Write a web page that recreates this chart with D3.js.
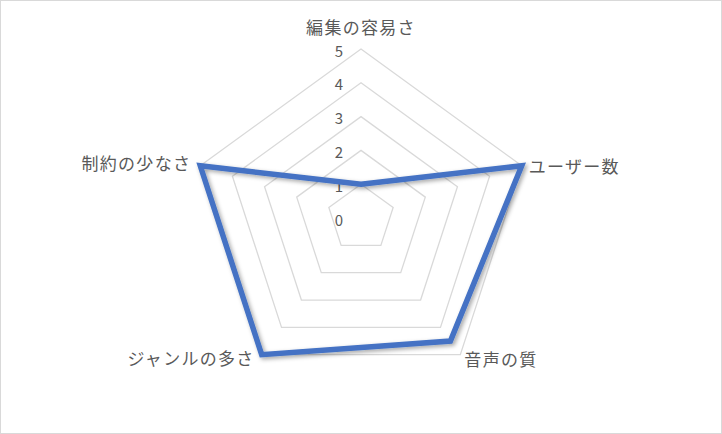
<!DOCTYPE html>
<html>
<head>
<meta charset="utf-8">
<script src="https://cdn.jsdelivr.net/npm/d3@7"></script>
<style>
  body { margin: 0; background: #fff; }
  text { font-family: "Noto Sans CJK JP", "Noto Sans", sans-serif; fill: #595959; }
</style>
</head>
<body>
<svg id="chart" width="722" height="434"></svg>
<script>
const categories = ['編集の容易さ', 'ユーザー数', '音声の質', 'ジャンルの多さ', '制約の少なさ'];
const values = [1, 5, 4.5, 5, 5];
const ticks = [0, 1, 2, 3, 4, 5];

const width = 722, height = 434;
const cx = 361, cy = 218, radius = 169;

const svg = d3.select('#chart');

svg.append('rect')
  .attr('x', 0.5).attr('y', 0.5)
  .attr('width', width - 1).attr('height', height - 1)
  .attr('fill', '#fff').attr('stroke', '#d9d9d9');

const defs = svg.append('defs');
const shadow = defs.append('filter').attr('id', 'shadow')
  .attr('x', '-10%').attr('y', '-10%').attr('width', '120%').attr('height', '120%');
shadow.append('feDropShadow')
  .attr('dx', 2).attr('dy', 2).attr('stdDeviation', 2)
  .attr('flood-color', '#000').attr('flood-opacity', 0.35);

const r = d3.scaleLinear().domain([0, 5]).range([0, radius]);
const angle = d3.scalePoint().domain(categories).range([0, 2 * Math.PI * 4 / 5]);

const g = svg.append('g').attr('transform', `translate(${cx},${cy})`);

const point = (cat, v) => {
  const a = angle(cat);
  return [r(v) * Math.sin(a), -r(v) * Math.cos(a)];
};

// grid
const lineClosed = d3.line().curve(d3.curveLinearClosed);
g.selectAll('path.grid').data(ticks.filter(t => t > 0)).enter()
  .append('path').attr('class', 'grid')
  .attr('d', t => lineClosed(categories.map(c => point(c, t))))
  .attr('fill', 'none').attr('stroke', '#d9d9d9').attr('stroke-width', 1.3);

// tick labels
g.selectAll('text.tick').data(ticks).enter()
  .append('text').attr('class', 'tick')
  .attr('x', -22).attr('y', t => -r(t) + 1)
  .attr('text-anchor', 'middle').attr('dominant-baseline', 'central')
  .attr('font-size', 15)
  .text(t => t);

// series
g.append('path')
  .attr('d', lineClosed(categories.map((c, i) => point(c, values[i]))))
  .attr('fill', 'none').attr('stroke', '#4472c4').attr('stroke-width', 5.5)
  .attr('stroke-linejoin', 'miter')
  .attr('filter', 'url(#shadow)');

// category labels
const labelPos = {
  '編集の容易さ': { dx: 0, dy: -23, anchor: 'middle' },
  'ユーザー数': { dx: 7, dy: 0, anchor: 'start' },
  '音声の質': { dx: 4, dy: 4, anchor: 'start' },
  'ジャンルの多さ': { dx: -7, dy: 3, anchor: 'end' },
  '制約の少なさ': { dx: -9, dy: -3, anchor: 'end' }
};
g.selectAll('text.cat').data(categories).enter()
  .append('text').attr('class', 'cat')
  .attr('x', c => point(c, 5)[0] + labelPos[c].dx)
  .attr('y', c => point(c, 5)[1] + labelPos[c].dy)
  .attr('text-anchor', c => labelPos[c].anchor)
  .attr('dominant-baseline', 'central')
  .attr('font-size', 17)
  .attr('letter-spacing', 1.3)
  .text(c => c);
</script>
</body>
</html>
